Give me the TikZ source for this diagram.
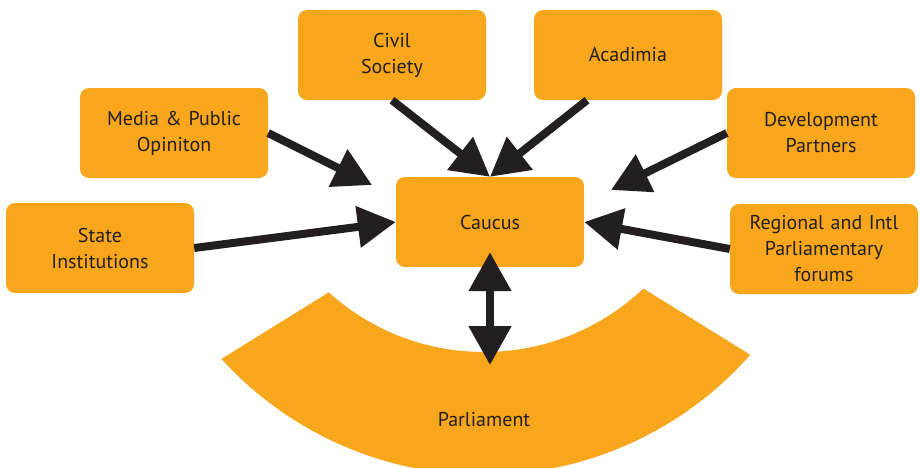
\documentclass[tikz,border=0pt]{standalone}
\usepackage{fontspec}
\setmainfont{PT Sans}
\usetikzlibrary{arrows.meta}

\definecolor{boxorange}{RGB}{248,166,28}
\definecolor{inkblack}{RGB}{35,31,32}

\tikzset{
  box/.style={fill=boxorange, rounded corners=9pt, minimum width=188pt, minimum height=90pt,
    text width=175pt, text centered, text=inkblack, font=\fontsize{20}{26}\selectfont},
  feed/.style={draw=inkblack, line width=8pt, -{Triangle[length=38pt,width=40pt]}},
  link/.style={draw=inkblack, line width=8pt, {Triangle[length=39pt,width=41pt]}-{Triangle[length=39pt,width=41pt]}}
}

\begin{document}
\begin{tikzpicture}[x=1pt, y=-1pt]

\useasboundingbox (0,0) rectangle (921,467);

%PARLIAMENT
\fill[boxorange] ([shift={(484,120)}]132:232) arc[start angle=132, end angle=46.6, radius=232]
	-- ([shift={(484,120)}]41.4:355) arc[start angle=41.4, end angle=137.7, radius=355] -- cycle;
\node[text=inkblack, font=\fontsize{20}{26}\selectfont, anchor=base] (parl) at (484,426) {Parliament};

%NODES
\node[box] (caucus) at (490,222) {Caucus};
\node[box] (state) at (100,248) {State\\Institutions};
\node[box] (media) at (174,133) {Media \& Public\\Opiniton};
\node[box] (civil) at (392,55) {Civil\\Society};
\node[box] (acad) at (628,55) {Acadimia};
\node[box] (devpart) at (821,133) {Development\\Partners};
\node[box] (regional) at (824,249) {Regional and Intl\\Parliamentary\\forums};

\coordinate (mediatip) at (372,185);
\coordinate (devtip) at (611,190);
\coordinate (parltip) at (490,365);

%ARROWS
\draw[feed] (media.east) -- (mediatip);
\draw[feed] (civil.south) -- (caucus.north);
\draw[feed] ([xshift=-41pt]acad.south) -- (caucus.north);
\draw[feed] (devpart.west) -- (devtip);
\draw[feed] (state.east) -- (caucus.west);
\draw[feed] (regional.west) -- (caucus.east);
\draw[link] ([yshift=15pt]caucus.south) -- (parltip);

\end{tikzpicture}
\end{document}
